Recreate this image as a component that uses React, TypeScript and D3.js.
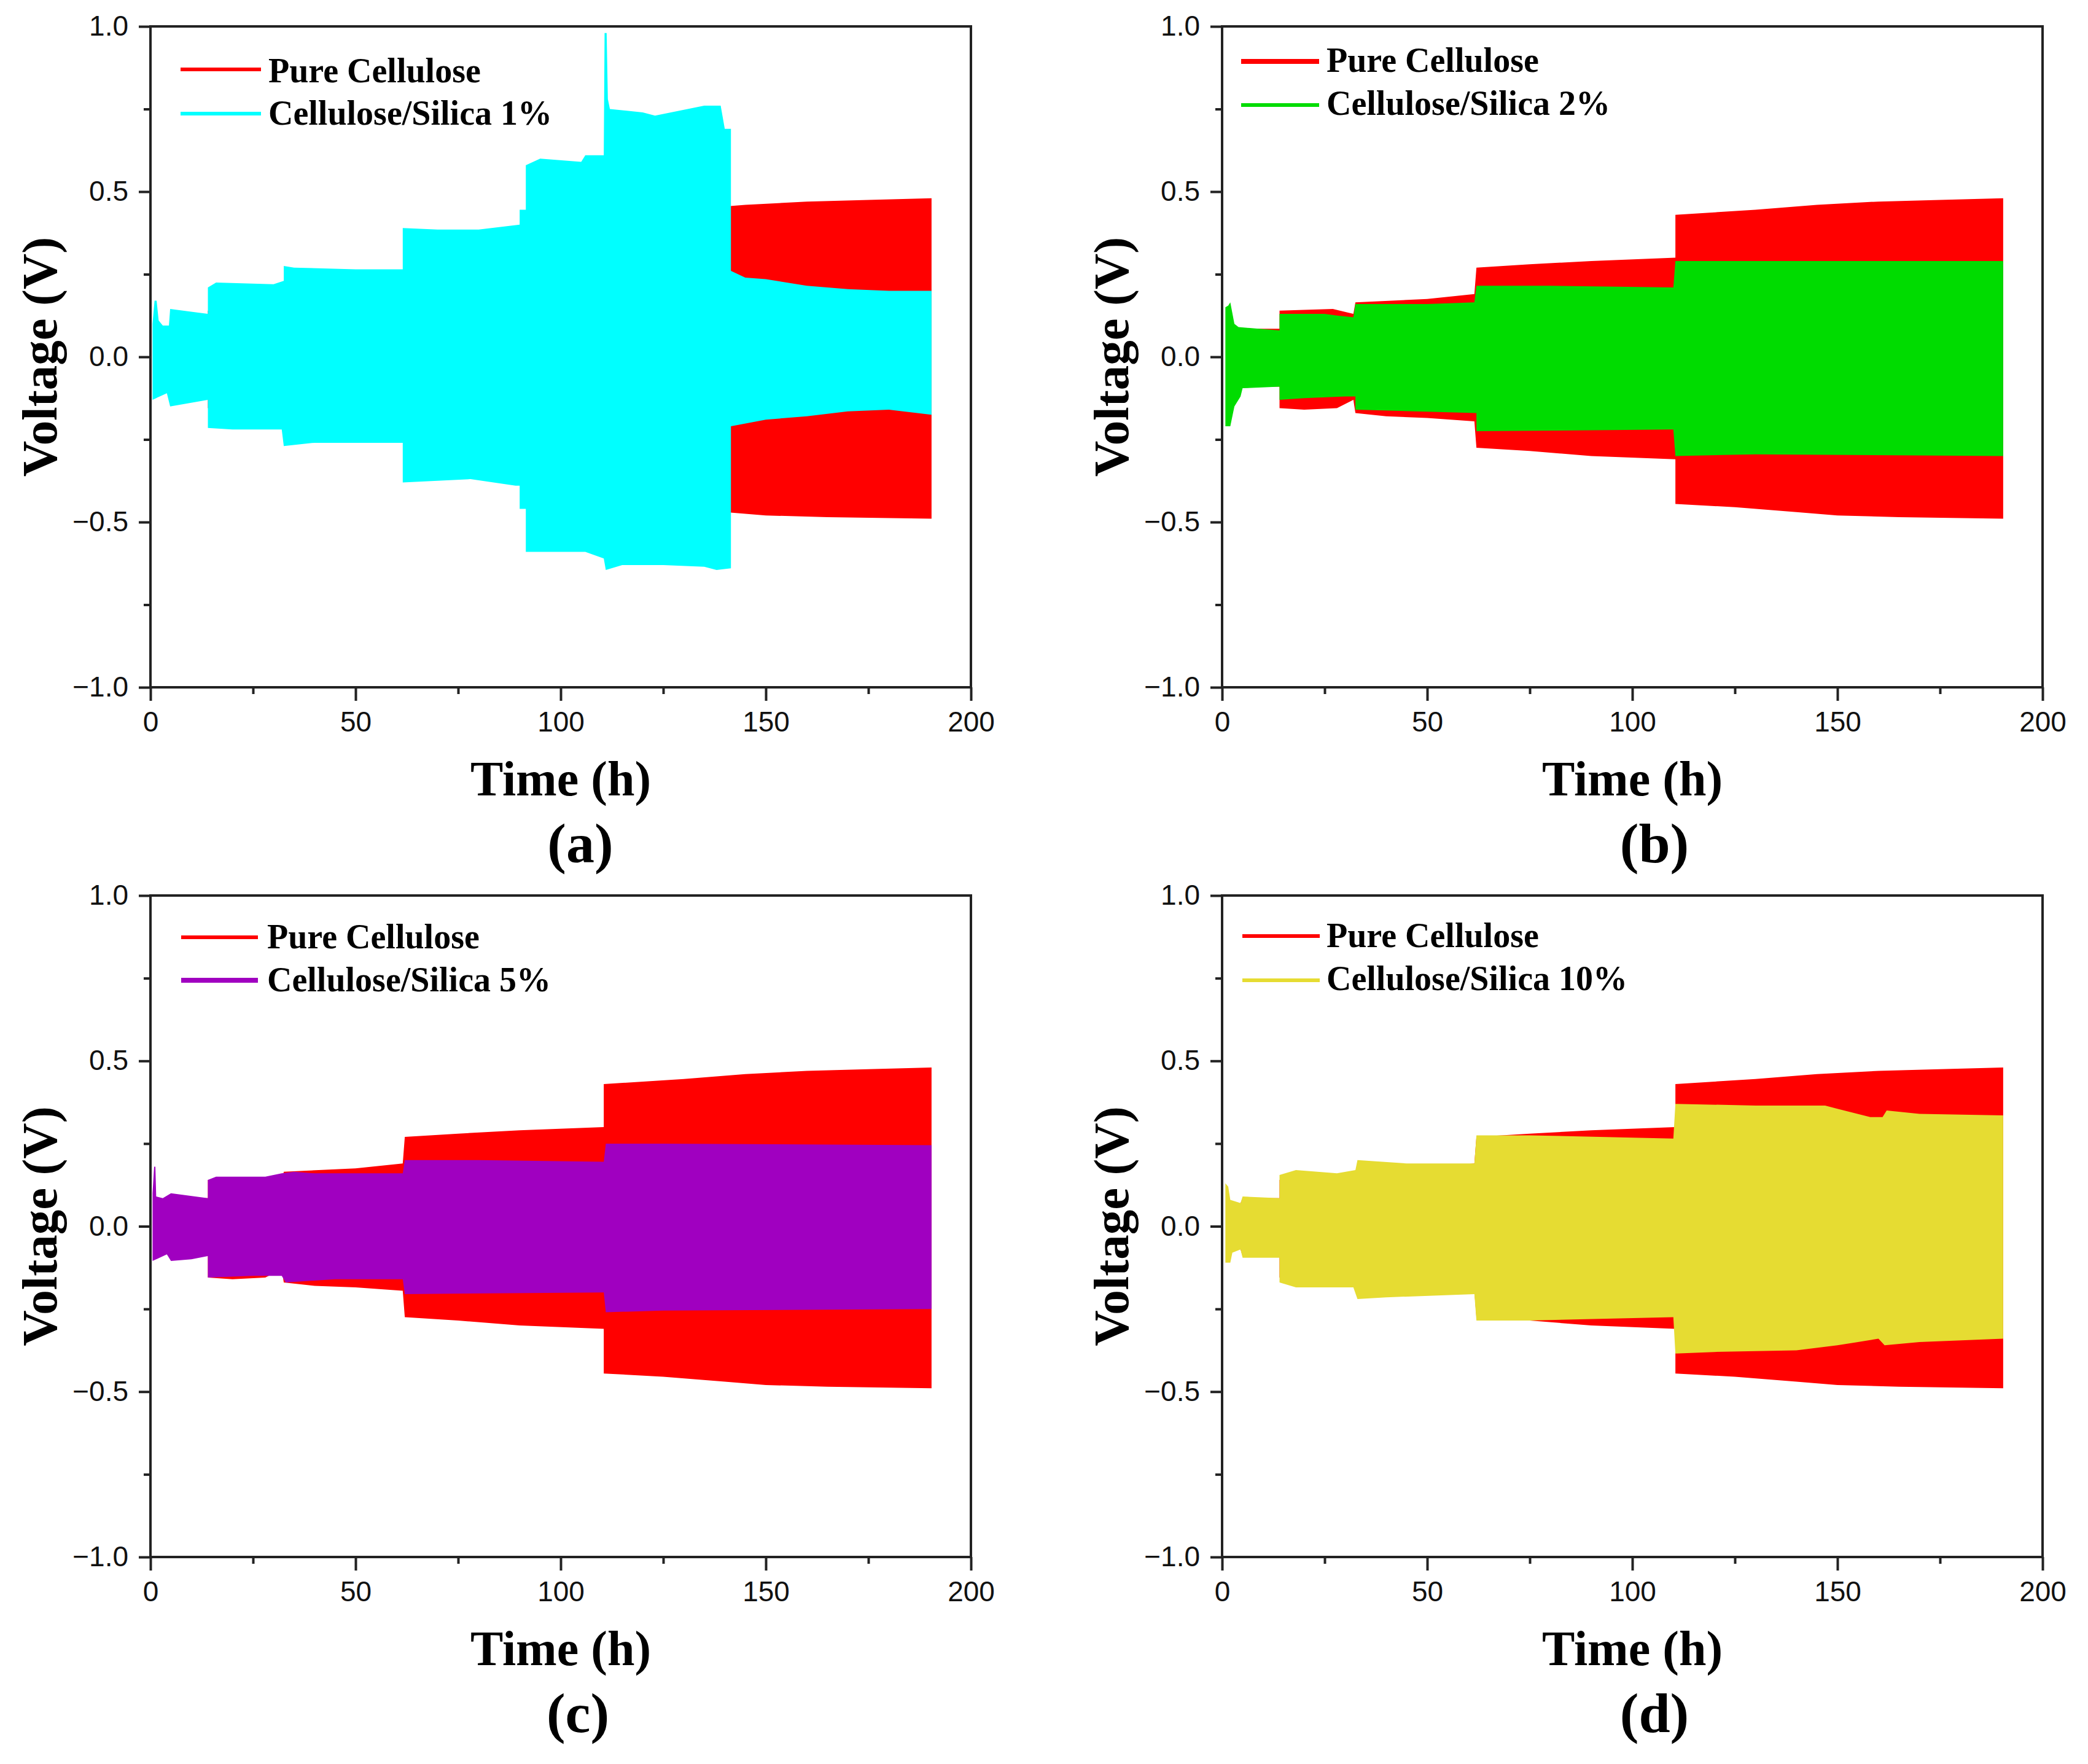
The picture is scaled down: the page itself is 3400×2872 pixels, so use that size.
import { useEffect, useRef } from 'react';
import * as d3 from 'd3';

type Pt = [number, number];

// envelopes as [time h, voltage V]
const pureUpper: Pt[] = [[1.5, 0.06], [4.5, 0.07], [5, 0.085], [14, 0.085], [14, 0.14], [27, 0.145], [32, 0.13], [32.5, 0.165], [50, 0.175], [61.5, 0.19], [62, 0.27], [75, 0.28], [90, 0.29], [110.5, 0.3], [110.5, 0.43], [130, 0.445], [145, 0.46], [160, 0.47], [175, 0.475], [190.4, 0.48]];
const pureLower: Pt[] = [[1.5, -0.06], [4.5, -0.07], [5, -0.09], [14, -0.09], [14, -0.155], [20, -0.16], [28, -0.155], [32, -0.13], [32.5, -0.17], [40, -0.18], [50, -0.185], [61.5, -0.195], [62, -0.275], [75, -0.285], [90, -0.3], [110.5, -0.31], [110.5, -0.445], [125, -0.455], [140, -0.47], [150, -0.48], [165, -0.485], [190.4, -0.49]];

const silica1Upper: Pt[] = [[0.5, 0.1], [1, 0.17], [1.5, 0.17], [2, 0.11], [3, 0.095], [4.5, 0.095], [4.8, 0.145], [14, 0.13], [14, 0.21], [16, 0.225], [30, 0.22], [32.5, 0.23], [32.5, 0.275], [35, 0.27], [50, 0.265], [61.5, 0.265], [61.5, 0.39], [70, 0.385], [80, 0.385], [90, 0.4], [90, 0.445], [91.5, 0.445], [91.5, 0.58], [95, 0.6], [105, 0.59], [106, 0.61], [110.5, 0.61], [110.7, 0.98], [111.2, 0.98], [111.5, 0.78], [112, 0.75], [120, 0.74], [123, 0.73], [135, 0.76], [139, 0.76], [140, 0.69], [141.5, 0.69], [141.5, 0.26], [145, 0.24], [150, 0.235], [160, 0.215], [170, 0.205], [180, 0.2], [190.4, 0.2]];
const silica1Lower: Pt[] = [[0.5, -0.13], [4, -0.11], [4.8, -0.15], [14, -0.13], [14, -0.215], [20, -0.22], [32, -0.22], [32.5, -0.27], [40, -0.26], [61.5, -0.26], [61.5, -0.38], [78, -0.37], [89, -0.39], [90, -0.39], [90, -0.46], [91.5, -0.46], [91.5, -0.59], [100, -0.59], [106, -0.59], [110.5, -0.61], [111, -0.645], [115, -0.63], [125, -0.63], [135, -0.635], [138, -0.645], [141.5, -0.64], [141.5, -0.21], [150, -0.19], [160, -0.18], [170, -0.165], [180, -0.16], [190.4, -0.175]];

const silica2Upper: Pt[] = [[0.8, 0.15], [1.5, 0.155], [2, 0.165], [3, 0.1], [4, 0.09], [14, 0.08], [14, 0.13], [25, 0.13], [28, 0.125], [32, 0.12], [32.5, 0.16], [50, 0.16], [61.5, 0.165], [62, 0.215], [80, 0.215], [110, 0.21], [110.5, 0.29], [190.4, 0.29]];
const silica2Lower: Pt[] = [[0.8, -0.21], [2, -0.21], [3, -0.15], [4.5, -0.12], [5, -0.095], [14, -0.09], [14, -0.13], [20, -0.125], [30, -0.12], [32.5, -0.12], [32.5, -0.16], [62, -0.17], [62, -0.225], [110, -0.22], [110.5, -0.3], [130, -0.295], [190.4, -0.3]];

const silica5Upper: Pt[] = [[0.5, 0.1], [0.9, 0.18], [1.2, 0.18], [1.4, 0.09], [3, 0.085], [5, 0.1], [14, 0.085], [14, 0.14], [16, 0.15], [28, 0.15], [32, 0.16], [35, 0.165], [40, 0.16], [61.5, 0.16], [62, 0.2], [80, 0.2], [110.5, 0.195], [111, 0.25], [125, 0.25], [190.4, 0.245]];
const silica5Lower: Pt[] = [[0.5, -0.105], [4, -0.085], [5, -0.105], [10, -0.1], [14, -0.09], [14, -0.155], [25, -0.15], [32, -0.15], [33, -0.17], [45, -0.16], [61.5, -0.16], [62, -0.205], [110.5, -0.2], [111, -0.26], [125, -0.255], [190.4, -0.25]];

const silica10Upper: Pt[] = [[0.8, 0.13], [1.5, 0.12], [2, 0.08], [4.5, 0.07], [5, 0.09], [14, 0.085], [14, 0.155], [18, 0.17], [28, 0.16], [32.5, 0.17], [33, 0.2], [45, 0.19], [61.5, 0.19], [62, 0.275], [75, 0.275], [110, 0.265], [110.5, 0.37], [130, 0.365], [147, 0.365], [150, 0.355], [158, 0.33], [161, 0.33], [162, 0.35], [170, 0.34], [190.4, 0.335]];
const silica10Lower: Pt[] = [[0.8, -0.11], [2, -0.11], [2.5, -0.08], [4.5, -0.07], [5, -0.095], [14, -0.095], [14, -0.17], [18, -0.185], [32, -0.185], [33, -0.22], [40, -0.215], [61.5, -0.205], [62, -0.285], [75, -0.285], [110, -0.275], [110.5, -0.385], [120, -0.38], [140, -0.375], [150, -0.36], [155, -0.35], [160, -0.34], [161.5, -0.36], [170, -0.35], [190.4, -0.34]];

const xMajor = [0, 50, 100, 150, 200];
const xMinor = [25, 75, 125, 175];
const yMajor = [-1, -0.5, 0, 0.5, 1];
const yMinor = [-0.75, -0.25, 0.25, 0.75];

const PURE_LABEL = 'Pure Cellulose';
const PURE_COLOR = '#ff0000';

const panels = [
  { tag: '(a)', label: 'Cellulose/Silica 1%', color: '#00ffff', upper: silica1Upper, lower: silica1Lower, left: 245, right: 1581, top: 43, bottom: 1119, tagX: 945, legendX: [294, 425, 437], legendY: [113, 185], textY: [134, 203], lw: [6, 6] },
  { tag: '(b)', label: 'Cellulose/Silica 2%', color: '#00dc00', upper: silica2Upper, lower: silica2Lower, left: 1990, right: 3326, top: 43, bottom: 1119, tagX: 2694, legendX: [2021, 2148, 2160], legendY: [100, 171], textY: [117, 187], lw: [8, 6] },
  { tag: '(c)', label: 'Cellulose/Silica 5%', color: '#a000c0', upper: silica5Upper, lower: silica5Lower, left: 245, right: 1581, top: 1458, bottom: 2535, tagX: 941, legendX: [295, 420, 435], legendY: [1526, 1596], textY: [1544, 1614], lw: [6, 8] },
  { tag: '(d)', label: 'Cellulose/Silica 10%', color: '#e6dc32', upper: silica10Upper, lower: silica10Lower, left: 1990, right: 3326, top: 1458, bottom: 2535, tagX: 2694, legendX: [2023, 2149, 2160], legendY: [1524, 1596], textY: [1542, 1612], lw: [6, 6] },
];

const SANS = '"Liberation Sans", Arial, sans-serif';
const SERIF = '"Liberation Serif", "Times New Roman", serif';
const INK = '#222222';

export default function App() {
  const svgRef = useRef<SVGSVGElement>(null);

  useEffect(() => {
    if (!svgRef.current) return;
    const svg = d3.select(svgRef.current);
    svg.selectAll('*').remove();

    panels.forEach((p) => {
      const x = d3.scaleLinear().domain([0, 200]).range([p.left, p.right]);
      const y = d3.scaleLinear().domain([-1, 1]).range([p.bottom, p.top]);
      const line = d3.line<Pt>().x((d) => x(d[0])).y((d) => y(d[1]));
      const g = svg.append('g');

      // Envelopes
      const envelope = (up: Pt[], low: Pt[]) => `${line([...up, ...[...low].reverse()])}Z`;
      g.append('path').attr('d', envelope(pureUpper, pureLower)).attr('fill', PURE_COLOR);
      g.append('path').attr('d', envelope(p.upper, p.lower)).attr('fill', p.color);

      // Frame
      g.append('rect')
        .attr('x', p.left)
        .attr('y', p.top)
        .attr('width', p.right - p.left)
        .attr('height', p.bottom - p.top)
        .attr('fill', 'none')
        .attr('stroke', INK)
        .attr('stroke-width', 4);

      // Axes
      const styleAxis = (sel: d3.Selection<SVGGElement, unknown, null, undefined>) => {
        sel.select('.domain').remove();
        sel.selectAll('line').attr('stroke', INK).attr('stroke-width', 4);
        sel.selectAll('text').attr('fill', '#111').attr('font-size', 46).attr('font-family', SANS);
      };

      const bottom = g.append('g').attr('transform', `translate(0,${p.bottom})`);
      bottom.call(d3.axisBottom(x).tickValues(xMajor).tickSize(22).tickPadding(14).tickFormat((d) => d3.format('d')(d as number)));
      styleAxis(bottom);
      bottom.selectAll('text').attr('dy', 0).attr('y', 72);

      const bottomMinor = g.append('g').attr('transform', `translate(0,${p.bottom})`);
      bottomMinor.call(d3.axisBottom(x).tickValues(xMinor).tickSize(11).tickFormat(() => ''));
      styleAxis(bottomMinor);

      const left = g.append('g').attr('transform', `translate(${p.left},0)`);
      left.call(d3.axisLeft(y).tickValues(yMajor).tickSize(19).tickPadding(17).tickFormat((d) => d3.format('.1f')(d as number)));
      styleAxis(left);
      left.selectAll('text').attr('dy', 14.5);

      const leftMinor = g.append('g').attr('transform', `translate(${p.left},0)`);
      leftMinor.call(d3.axisLeft(y).tickValues(yMinor).tickSize(11).tickFormat(() => ''));
      styleAxis(leftMinor);

      // Axis titles
      g.append('text')
        .attr('x', (p.left + p.right) / 2)
        .attr('y', p.bottom + 176)
        .attr('text-anchor', 'middle')
        .attr('font-family', SERIF)
        .attr('font-weight', 'bold')
        .attr('font-size', 80)
        .text('Time (h)');
      g.append('text')
        .attr('transform', `translate(${p.left - 153},${(p.top + p.bottom) / 2}) rotate(-90)`)
        .attr('text-anchor', 'middle')
        .attr('font-family', SERIF)
        .attr('font-weight', 'bold')
        .attr('font-size', 81)
        .text('Voltage (V)');
      g.append('text')
        .attr('x', p.tagX)
        .attr('y', p.bottom + 285)
        .attr('text-anchor', 'middle')
        .attr('font-family', SERIF)
        .attr('font-weight', 'bold')
        .attr('font-size', 92)
        .text(p.tag);

      // Legend
      [PURE_LABEL, p.label].forEach((name, i) => {
        g.append('line')
          .attr('x1', p.legendX[0])
          .attr('x2', p.legendX[1])
          .attr('y1', p.legendY[i])
          .attr('y2', p.legendY[i])
          .attr('stroke', i === 0 ? PURE_COLOR : p.color)
          .attr('stroke-width', p.lw[i]);
        g.append('text')
          .attr('x', p.legendX[2])
          .attr('y', p.textY[i])
          .attr('font-family', SERIF)
          .attr('font-weight', 'bold')
          .attr('font-size', 56)
          .text(name);
      });
    });
  }, []);

  return (
    <svg
      ref={svgRef}
      width={3400}
      height={2872}
      style={{ position: 'absolute', left: 0, top: 0, display: 'block', background: '#fff' }}
    />
  );
}
